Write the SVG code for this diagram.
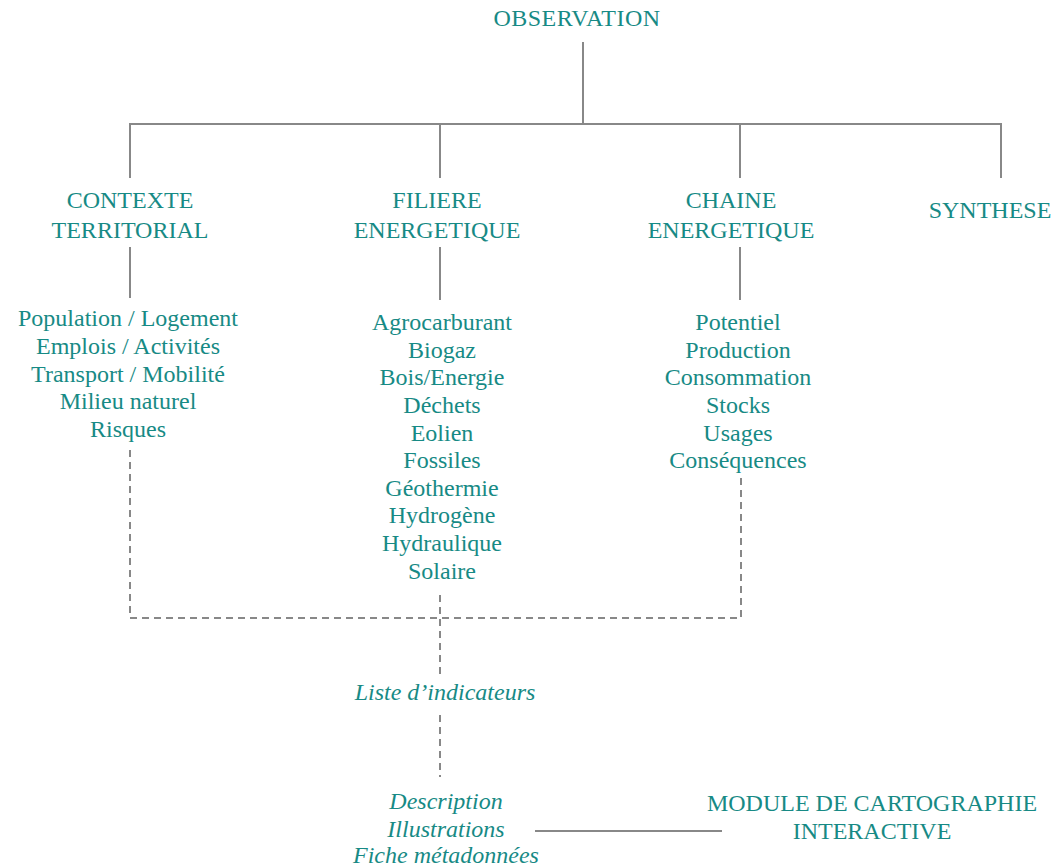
<svg xmlns="http://www.w3.org/2000/svg" width="1064" height="868" viewBox="0 0 1064 868">
<style>
text{font-family:'Liberation Serif','Times New Roman',serif;fill:#178a85;font-size:24px;text-anchor:middle}
.it{font-style:italic}
.ln{stroke:#888;stroke-width:2;fill:none}
.ds{stroke:#888;stroke-width:2;fill:none;stroke-dasharray:7,5}
</style>
<rect width="1064" height="868" fill="#fff"/>
<g id="connectors">
<path class="ln" d="M583 42V124M130 178V124H1001V178M440 124V178M740 124V178"/>
<path class="ln" d="M130 247V298M440 247V300M740 247V300"/>
<path class="ds" d="M130 450V618H741V473"/>
<path class="ds" d="M440 595V676M440 715V777"/>
<path class="ln" d="M535 831H722"/>
</g>
<g id="observation"><text x="577" y="26" letter-spacing="0.5">OBSERVATION</text></g>
<g id="contexte"><text x="130" y="208">CONTEXTE</text><text x="130" y="238">TERRITORIAL</text></g>
<g id="filiere"><text x="437" y="208">FILIERE</text><text x="437" y="238">ENERGETIQUE</text></g>
<g id="chaine"><text x="731" y="208">CHAINE</text><text x="731" y="238">ENERGETIQUE</text></g>
<g id="synthese"><text x="990" y="218">SYNTHESE</text></g>
<g id="list-contexte">
<text x="128" y="326">Population / Logement</text>
<text x="128" y="354">Emplois / Activités</text>
<text x="128" y="382">Transport / Mobilité</text>
<text x="128" y="409">Milieu naturel</text>
<text x="128" y="437">Risques</text>
</g>
<g id="list-filiere">
<text x="442" y="330">Agrocarburant</text>
<text x="442" y="358">Biogaz</text>
<text x="442" y="385">Bois/Energie</text>
<text x="442" y="413">Déchets</text>
<text x="442" y="441">Eolien</text>
<text x="442" y="468">Fossiles</text>
<text x="442" y="496">Géothermie</text>
<text x="442" y="523">Hydrogène</text>
<text x="442" y="551">Hydraulique</text>
<text x="442" y="579">Solaire</text>
</g>
<g id="list-chaine">
<text x="738" y="330">Potentiel</text>
<text x="738" y="358">Production</text>
<text x="738" y="385">Consommation</text>
<text x="738" y="413">Stocks</text>
<text x="738" y="441">Usages</text>
<text x="738" y="468">Conséquences</text>
</g>
<g id="liste"><text class="it" x="445" y="700">Liste d’indicateurs</text></g>
<g id="fiche">
<text class="it" x="446" y="809">Description</text>
<text class="it" x="446" y="837">Illustrations</text>
<text class="it" x="446" y="863">Fiche métadonnées</text>
</g>
<g id="module">
<text x="872" y="811">MODULE DE CARTOGRAPHIE</text>
<text x="872" y="839">INTERACTIVE</text>
</g>
</svg>
